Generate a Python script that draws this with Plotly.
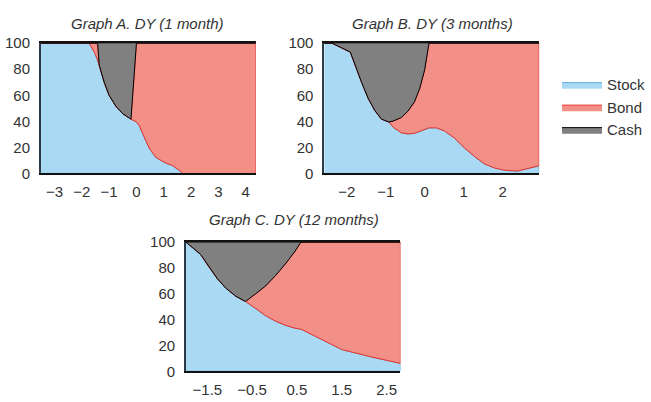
import plotly.graph_objects as go

# ---------------- data (percent allocation vs. standardized DY) ----------------
# Graph A. DY (1 month)
a_x = [-3.5, -1.73, -1.54, -1.42, -1.36, -1.30, -1.18, -1.00, -0.75, -0.51, -0.20,
       0.0, 0.10, 0.28, 0.46, 0.71, 1.07, 1.31, 1.56, 1.70, 4.37]
a_stock = [100, 100, 93, 87, 83, 78.5, 70, 60, 51.5, 46, 41.7,
           39.5, 36.8, 28.2, 19.6, 12.3, 7.9, 6.2, 2.5, 0, 0]
a_bond = [0, 0, 7, 13, 0, 0, 0, 0, 0, 0, 0,
          60.5, 63.2, 71.8, 80.4, 87.7, 92.1, 93.8, 97.5, 100, 100]
a_cash = [0, 0, 0, 0, 17, 21.5, 30, 40, 48.5, 54, 58.3,
          0, 0, 0, 0, 0, 0, 0, 0, 0, 0]

# Graph B. DY (3 months)
b_x = [-2.58, -2.38, -1.91, -1.79, -1.62, -1.45, -1.28, -1.11, -0.92, -0.81, -0.60,
       -0.43, -0.26, -0.13, 0.0, 0.11, 0.30, 0.51, 0.77, 1.02, 1.28, 1.53, 1.79,
       2.04, 2.38, 2.64, 2.94]
b_stock = [100, 100, 93.2, 83.4, 69.9, 57.6, 48.3, 41.7, 39.5, 35.5, 31.2,
           30.3, 30.8, 32.0, 33.8, 35.0, 35.0, 32.6, 27.0, 19.6, 13.0, 7.4, 4.2,
           2.5, 1.8, 3.7, 5.9]
b_bond = [0, 0, 0, 0, 0, 0, 0, 0, 0, 4.7, 11.7,
          17.5, 24.3, 33.0, 45.9, 65.0, 65.0, 67.4, 73.0, 80.4, 87.0, 92.6, 95.8,
          97.5, 98.2, 96.3, 94.1]
b_cash = [0, 0, 6.8, 16.6, 30.1, 42.4, 51.7, 58.3, 60.5, 59.8, 57.1,
          52.2, 44.9, 35.0, 20.3, 0, 0, 0, 0, 0, 0, 0, 0,
          0, 0, 0, 0]

# Graph C. DY (12 months)
c_x = [-1.98, -1.65, -1.46, -1.28, -1.09, -0.87, -0.65, -0.42, -0.20, 0.02, 0.24,
       0.46, 0.59, 1.06, 1.50, 2.16, 2.81]
c_stock = [100, 90.4, 80.4, 71.8, 64.4, 58.2, 54.0, 48.6, 43.0, 38.8, 35.6,
           33.3, 32.6, 24.7, 16.8, 11.1, 6.1]
c_bond = [0, 0, 0, 0, 0, 0, 0, 11.4, 23.0, 35.2, 47.4,
          59.7, 67.4, 75.3, 83.2, 88.9, 93.9]
c_cash = [0, 9.6, 19.6, 28.2, 35.6, 41.8, 46.0, 40.0, 34.0, 26.0, 17.0,
          7.0, 0, 0, 0, 0, 0]

titles = ["Graph A. DY (1 month)", "Graph B. DY (3 months)", "Graph C. DY (12 months)"]
series_names = ["Stock", "Bond", "Cash"]
y_ticks = [0, 20, 40, 60, 80, 100]
a_ticks = [-3, -2, -1, 0, 1, 2, 3, 4]
b_ticks = [-2, -1, 0, 1, 2]
c_ticks = [-1.5, -0.5, 0.5, 1.5, 2.5]

# ---------------- styling ----------------
FILLS = {"Stock": "#aad9f3", "Bond": "#f28f87", "Cash": "#808080"}
LINES = {"Stock": "#5aaedf", "Bond": "#e3322b", "Cash": "#000000"}
FONT = "Liberation Sans, Arial, Helvetica, sans-serif"
TXT = "#333333"

fig = go.Figure()


def add_panel(x, stock, bond, cash, xa, ya, show):
    base = [0] * len(x)
    sb = [s + b for s, b in zip(stock, bond)]
    top = [v + c for v, c in zip(sb, cash)]
    layers = [("Stock", base, stock), ("Bond", stock, sb), ("Cash", sb, top)]
    for name, lo, hi in layers:
        px = list(x) + list(x)[::-1]
        py = list(hi) + list(lo)[::-1]
        fig.add_trace(go.Scatter(
            x=px, y=py, fill="toself", mode="lines", name=name,
            fillcolor=FILLS[name], line=dict(color=LINES[name], width=1),
            xaxis=xa, yaxis=ya, showlegend=show, legendgroup=name,
            hoverinfo="skip"))


add_panel(a_x, a_stock, a_bond, a_cash, "x", "y", True)
add_panel(b_x, b_stock, b_bond, b_cash, "x2", "y2", False)
add_panel(c_x, c_stock, c_bond, c_cash, "x3", "y3", False)

W, H = 651, 402
dom = {
    "A": ([41 / W, 257 / W], [1 - 171.7 / H, 1 - 35.7 / H]),
    "B": ([325.7 / W, 541.7 / W], [1 - 171.7 / H, 1 - 35.7 / H]),
    "C": ([186.7 / W, 402.3 / W], [1 - 378.3 / H, 1 - 243.3 / H]),
}
xranges = {"A": [a_x[0], a_x[-1]], "B": [b_x[0], b_x[-1]], "C": [c_x[0], c_x[-1]]}
xticks = {"A": a_ticks, "B": b_ticks, "C": c_ticks}


def xaxis_cfg(k):
    return dict(domain=dom[k][0], range=xranges[k], tickvals=xticks[k],
                showgrid=False, zeroline=False, showline=True, linecolor="#111111",
                linewidth=1.5, mirror=True, ticks="", ticklabelstandoff=4,
                tickfont=dict(family=FONT, size=15, color=TXT), fixedrange=True)


def yaxis_cfg(k, anchor):
    return dict(domain=dom[k][1], range=[0, 100], tickvals=y_ticks, anchor=anchor,
                showgrid=False, zeroline=False, showline=True, linecolor="#2d3b48",
                linewidth=1.5, ticks="", ticklabelstandoff=6,
                tickfont=dict(family=FONT, size=15, color=TXT), fixedrange=True)


fig.update_layout(
    width=W, height=H, margin=dict(l=0, r=0, t=0, b=0),
    paper_bgcolor="white", plot_bgcolor="white",
    xaxis=dict(xaxis_cfg("A"), anchor="y"),
    yaxis=yaxis_cfg("A", "x"),
    xaxis2=dict(xaxis_cfg("B"), anchor="y2"),
    yaxis2=yaxis_cfg("B", "x2"),
    xaxis3=dict(xaxis_cfg("C"), anchor="y3"),
    yaxis3=yaxis_cfg("C", "x3"),
    legend=dict(x=560 / W, y=1 - 62 / H, xanchor="left", yanchor="top",
                font=dict(family=FONT, size=15, color=TXT), itemwidth=40,
                tracegroupgap=0, bgcolor="rgba(0,0,0,0)"),
    showlegend=True,
)

title_pos = [(148.5 / W, 1 - 15 / H), (434.7 / W, 1 - 15 / H), (295 / W, 1 - 220 / H)]
for t, (tx, ty) in zip(titles, title_pos):
    fig.add_annotation(text=t, x=tx, y=ty, xref="paper", yref="paper",
                       xanchor="center", yanchor="middle", showarrow=False,
                       font=dict(family=FONT, size=15, color=TXT, style="italic"))

fig.write_html(
    "out.html",
    config={"displayModeBar": False},
    post_script="document.body.style.margin='0';document.body.style.overflow='hidden';",
)
